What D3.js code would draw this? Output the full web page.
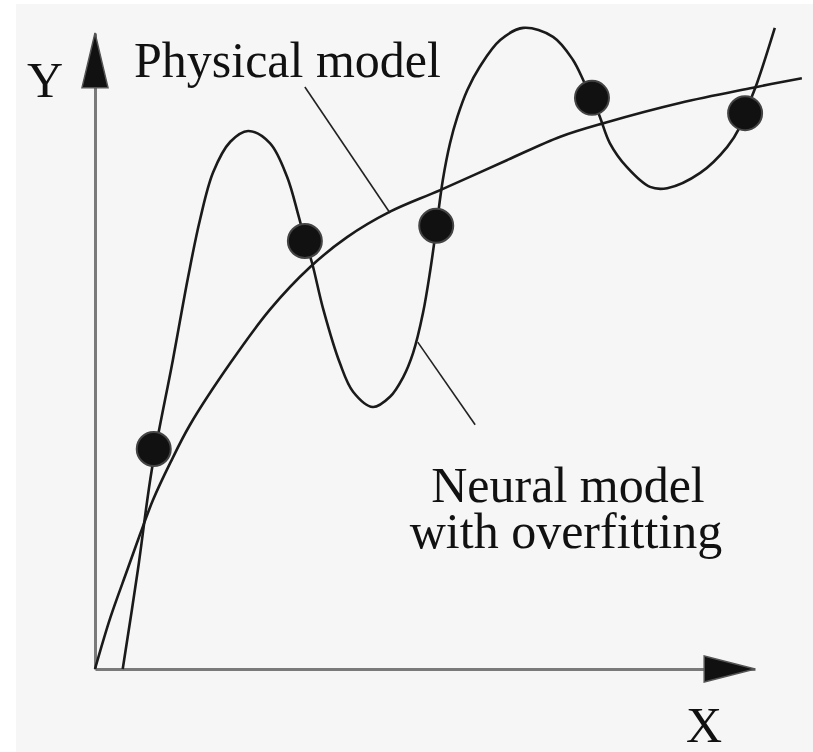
<!DOCTYPE html>
<html>
<head>
<meta charset="utf-8">
<script src="https://cdn.jsdelivr.net/npm/d3@7"></script>
<style>
    body { margin: 0; background: #ffffff; }
    .label { font-family: "Liberation Serif", "DejaVu Serif", serif; font-size: 50px; fill: #111; }
    .axis path { stroke: #7a7a7a; stroke-width: 3px; }
</style>
</head>
<body>
<svg id="chart" width="813" height="752"></svg>
<script>
// values, x and y both in 0..100 (arrow tips = 100)
var physical_x = [0, 2.3, 4.9, 6.8, 8.8, 11.4, 14.4, 20.5, 26.5, 32.6, 38.2, 44.7, 52.3, 62.4, 70.5, 77.3, 88.6, 99.7, 107.1];
var physical_y = [0, 8.0, 15.6, 21.1, 26.6, 32.4, 38.4, 48.1, 56.5, 63.2, 67.9, 71.9, 75.3, 80.0, 83.7, 85.9, 89.0, 91.4, 92.9];

var neural_x = [4.2, 6.5, 8.6, 11.8, 14.1, 15.9, 17.9, 20.5, 23.2, 26.5, 29.1, 30.8, 31.8, 32.9, 34.6,
    37.1, 39.1, 42.1, 44.7, 46.7, 48.2, 49.7, 50.8, 51.7, 52.7, 53.8, 54.9, 56.4, 58.3, 61.4, 64.9,
    69.4, 72.4, 74.2, 75.3, 76.5, 78.0, 80.6, 84.1, 86.7, 91.7, 95.8, 97.7, 98.5, 100.3, 103.0];
var neural_y = [0, 15.6, 31.3, 48.6, 61.6, 70.6, 78.1, 82.9, 84.6, 82.7, 77.4, 71.4, 67.5, 63.8, 56.5,
    48.1, 43.6, 41.2, 42.8, 45.9, 49.7, 56.0, 62.7, 69.3, 76.9, 82.7, 86.8, 91.0, 94.7, 98.9, 100.8,
    99.4, 95.8, 92.1, 89.8, 86.8, 82.7, 78.9, 75.8, 75.6, 78.0, 82.1, 85.2, 87.4, 92.1, 100.8];

var sample_x = [8.9, 31.8, 51.7, 75.3, 98.5];
var sample_y = [34.6, 67.3, 69.7, 89.8, 87.4];

var axis_names = ["X", "Y"];
var curve_names = ["Physical model", "Neural model", "with overfitting"];

var svg = d3.select("#chart");

svg.append("rect")
    .attr("x", 16).attr("y", 4)
    .attr("width", 797).attr("height", 748)
    .attr("fill", "#f6f6f6");

var x = d3.scaleLinear().domain([0, 100]).range([95, 755]);
var y = d3.scaleLinear().domain([0, 100]).range([669, 33]);

// axes, no ticks, just the line
svg.append("g")
    .attr("class", "axis")
    .attr("transform", "translate(0," + y(0) + ")")
    .call(d3.axisBottom(x).tickValues([]).tickSizeOuter(0));

svg.append("g")
    .attr("class", "axis")
    .attr("transform", "translate(" + x(0) + ",0)")
    .call(d3.axisLeft(y).tickValues([]).tickSizeOuter(0));

function arrow_head(points) {
    svg.append("path")
        .attr("d", "M" + points.join("L") + "Z")
        .attr("fill", "#111")
        .attr("stroke", "#555")
        .attr("stroke-width", 1.5);
}

arrow_head([[x(100), y(0)], [x(92.3), y(0) - 13], [x(92.3), y(0) + 13]]);
arrow_head([[x(0), y(100)], [x(0) - 13, y(91.4)], [x(0) + 13, y(91.4)]]);

function to_points(xs, ys) {
    return xs.map(function (d, i) { return [d, ys[i]]; });
}

var line = d3.line()
    .x(function (d) { return x(d[0]); })
    .y(function (d) { return y(d[1]); })
    .curve(d3.curveCatmullRom.alpha(0.5));

svg.append("path")
    .datum(to_points(physical_x, physical_y))
    .attr("d", line)
    .attr("fill", "none")
    .attr("stroke", "#1a1a1a")
    .attr("stroke-width", 2.6);

svg.append("path")
    .datum(to_points(neural_x, neural_y))
    .attr("d", line)
    .attr("fill", "none")
    .attr("stroke", "#1a1a1a")
    .attr("stroke-width", 2.6);

// leader lines from the labels to the curves
function pointer(x1, y1, x2, y2) {
    svg.append("line")
        .attr("x1", x(x1)).attr("y1", y(y1))
        .attr("x2", x(x2)).attr("y2", y(y2))
        .attr("stroke", "#222")
        .attr("stroke-width", 1.6);
}
pointer(31.8, 91.5, 44.7, 71.7);
pointer(48.9, 51.4, 57.6, 38.4);

svg.selectAll(".sample")
    .data(to_points(sample_x, sample_y))
    .enter()
    .append("circle")
    .attr("class", "sample")
    .attr("cx", function (d) { return x(d[0]); })
    .attr("cy", function (d) { return y(d[1]); })
    .attr("r", 17)
    .attr("fill", "#111")
    .attr("stroke", "#444")
    .attr("stroke-width", 2);

function label(text, px, py, anchor) {
    svg.append("text")
        .attr("class", "label")
        .attr("x", px)
        .attr("y", py)
        .style("text-anchor", anchor)
        .text(text);
}

label(axis_names[1], 45, 97, "middle");
label(axis_names[0], 704, 742, "middle");
label(curve_names[0], 134, 77, "start");
label(curve_names[1], 568, 502, "middle");
label(curve_names[2], 566, 548, "middle");
</script>
</body>
</html>
